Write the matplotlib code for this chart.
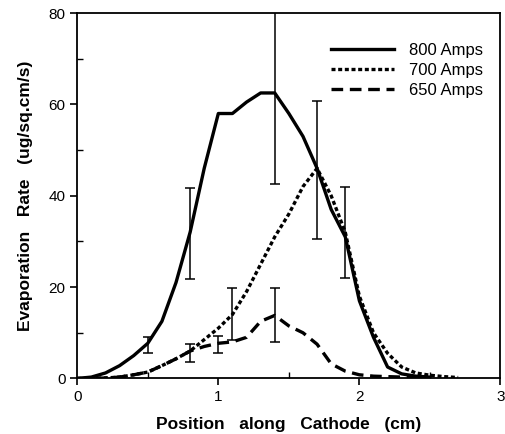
import numpy as np
import matplotlib
matplotlib.use("Agg")
import matplotlib.pyplot as plt
from matplotlib.ticker import MultipleLocator

plt.rcParams['font.family'] = ['Liberation Sans', 'DejaVu Sans']

# positions along cathode (cm)
x800 = [0.0, 0.1, 0.2, 0.3, 0.4, 0.5, 0.6, 0.7, 0.8, 0.9, 1.0, 1.1, 1.2, 1.3,
        1.4, 1.5, 1.6, 1.7, 1.8, 1.9, 2.0, 2.1, 2.2, 2.3, 2.4, 2.5]
y800 = [0.0, 0.3, 1.2, 2.8, 5.0, 7.7, 12.5, 21, 32, 46, 58, 58, 60.5, 62.5,
        62.5, 58, 53, 46, 37, 31, 17, 9, 2.5, 1.0, 0.5, 0.3]

x700 = [0.0, 0.1, 0.2, 0.3, 0.4, 0.5, 0.6, 0.7, 0.8, 0.9, 1.0, 1.1, 1.2, 1.3,
        1.4, 1.5, 1.6, 1.7, 1.8, 1.9, 2.0, 2.1, 2.2, 2.3, 2.4, 2.5, 2.6, 2.7]
y700 = [0.0, 0.0, 0.1, 0.3, 0.8, 1.4, 2.8, 4.3, 6.0, 8.5, 11, 14, 19, 25,
        31, 36, 42, 46, 40, 32, 18, 10, 5.5, 2.5, 1.2, 0.7, 0.4, 0.2]

x650 = [0.0, 0.1, 0.2, 0.3, 0.4, 0.5, 0.6, 0.7, 0.8, 0.9, 1.0, 1.1, 1.2, 1.3,
        1.4, 1.5, 1.6, 1.7, 1.8, 1.9, 2.0, 2.1, 2.2, 2.3, 2.4]
y650 = [0.0, 0.0, 0.1, 0.3, 0.8, 1.4, 2.8, 4.3, 6.0, 7.0, 7.7, 8.0, 9.0, 12.5,
        13.8, 11.5, 10, 7.5, 3.2, 1.6, 0.8, 0.5, 0.4, 0.3, 0.2]

# error bars: position, centre, half-width
err_x = [0.5, 0.8, 0.8, 1.0, 1.1, 1.4, 1.4, 1.7, 1.9]
err_y = [7.3, 31.8, 5.5, 7.4, 14.1, 13.9, 62.5, 45.7, 32.0]
err_h = [1.8, 10.0, 2.0, 1.9, 5.6, 5.9, 20.0, 15.1, 10.0]

fig = plt.figure(figsize=(5.05, 4.34), dpi=100)
ax = fig.add_axes([0.153, 0.128, 0.838, 0.842])

ax.plot(x800, y800, color='black', lw=2.4, ls='-', label='800 Amps')
ax.plot(x700, y700, color='black', lw=2.4, ls=(0, (1.2, 0.8)), label='700 Amps')
ax.plot(x650, y650, color='black', lw=2.4, ls=(0, (3.5, 2)), label='650 Amps')

ax.errorbar(err_x, err_y, yerr=err_h, fmt='none', ecolor='black',
            elinewidth=1.1, capsize=3.5, capthick=1.1)

ax.set_xlim(0, 3)
ax.set_ylim(0, 80)
ax.xaxis.set_major_locator(MultipleLocator(1))
ax.xaxis.set_minor_locator(MultipleLocator(0.5))
ax.yaxis.set_major_locator(MultipleLocator(20))
ax.yaxis.set_minor_locator(MultipleLocator(10))
ax.tick_params(which='major', direction='out', length=5, width=1.2, labelsize=11)
ax.tick_params(which='minor', direction='in', length=4, width=1.0)
for s in ax.spines.values():
    s.set_linewidth(1.3)

ax.set_xlabel('Position   along   Cathode   (cm)', fontsize=12.5, fontweight='bold', labelpad=9)
ax.set_ylabel('Evaporation   Rate   (ug/sq.cm/s)', fontsize=12.5, fontweight='bold', labelpad=11)

ax.legend(loc='upper right', frameon=False, fontsize=12, handlelength=3.8,
          handletextpad=0.9, bbox_to_anchor=(0.995, 0.96), labelspacing=0.3)

fig.savefig('out.png', dpi=100)
